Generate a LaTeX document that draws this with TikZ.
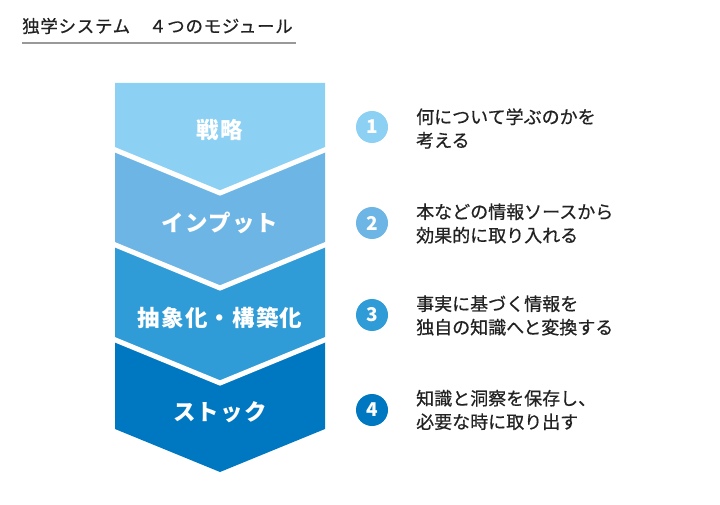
\documentclass[tikz,border=0pt]{standalone}
\usepackage{fontspec}
\setmainfont{Noto Sans CJK JP}
\newfontfamily\jpmed[FakeBold=0.6]{Noto Sans CJK JP}
\definecolor{cA}{HTML}{8CD0F3}
\definecolor{cB}{HTML}{6DB5E5}
\definecolor{cC}{HTML}{2F9CD7}
\definecolor{cD}{HTML}{0078C1}
\definecolor{txt}{HTML}{222222}
\definecolor{rule}{HTML}{999999}
\tikzset{
  sep/.style={draw=white, line width=5pt},
  blabel/.style={text=white, font=\fontsize{22.5}{24}\selectfont\bfseries\addfontfeatures{LetterSpace=5}, inner sep=0pt},
  numdot/.style={circle, minimum size=32pt, inner sep=0pt, text=white, font=\fontsize{19}{20}\selectfont\bfseries},
  desc/.style={anchor=west, align=left, text=txt, inner sep=0pt, font=\jpmed\fontsize{18}{23.5}\selectfont},
  ttl/.style={anchor=west, text=txt, inner sep=0pt, font=\jpmed\fontsize{17.5}{18}\selectfont\addfontfeatures{LetterSpace=4}}
}
\begin{document}
\begin{tikzpicture}[x=1pt,y=-1pt]
\useasboundingbox (0,0) rectangle (720,505);
\fill[white] (0,0) rectangle (720,505);
% title
\node[ttl] (title) at (22,26) {独学システム　４つのモジュール};
\coordinate (ulA) at (22,43);
\coordinate (ulB) at (296,43);
\draw[rule, line width=1.2pt] (ulA) -- (ulB);
% chevron bands
\fill[cA] (115,83) -- (325,83) -- (325,149) -- (220,193) -- (115,149) -- cycle;
\fill[cB] (115,149) -- (220,193) -- (325,149) -- (325,244) -- (220,288) -- (115,244) -- cycle;
\fill[cC] (115,244) -- (220,288) -- (325,244) -- (325,339) -- (220,383) -- (115,339) -- cycle;
\fill[cD] (115,339) -- (220,383) -- (325,339) -- (325,429) -- (220,472) -- (115,429) -- cycle;
\draw[sep] (113,149) -- (220,193) -- (327,149);
\draw[sep] (113,244) -- (220,288) -- (327,244);
\draw[sep] (113,339) -- (220,383) -- (327,339);
% band labels
\node[blabel] (b1) at (220,130) {戦略};
\node[blabel] (b2) at (220,223) {インプット};
\node[blabel] (b3) at (220,318) {抽象化・構築化};
\node[blabel] (b4) at (220,412) {ストック};
% numbers
\node[numdot, fill=cA] (n1) at (372,127) {1};
\node[numdot, fill=cB] (n2) at (372,223) {2};
\node[numdot, fill=cC] (n3) at (372,315) {3};
\node[numdot, fill=cD] (n4) at (372,410) {4};
% descriptions
\node[desc] (d1) at (416,128.5) {何について学ぶのかを\\考える};
\node[desc] (d2) at (416,223.5) {本などの情報ソースから\\効果的に取り入れる};
\node[desc] (d3) at (416,315.5) {事実に基づく情報を\\独自の知識へと変換する};
\node[desc] (d4) at (416,410) {知識と洞察を保存し、\\必要な時に取り出す};
\end{tikzpicture}
\end{document}
